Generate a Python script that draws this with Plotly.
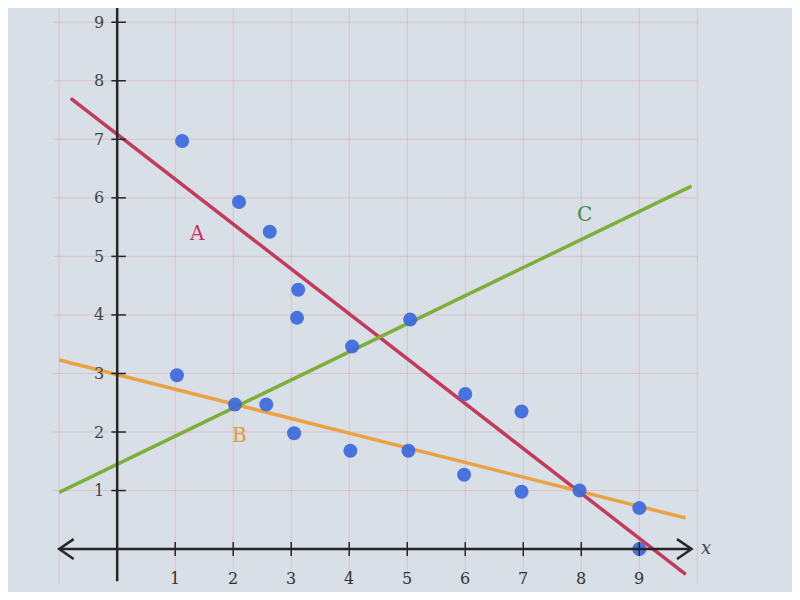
import plotly.graph_objects as go

# ---- data ----
pts_x = [1.12, 2.1, 2.63, 3.12, 3.1, 1.03, 2.03, 2.57, 3.05, 4.02, 4.05, 5.05, 5.02, 6.0, 6.97, 5.98, 6.97, 7.97, 9.0, 9.0]
pts_y = [6.97, 5.93, 5.42, 4.43, 3.95, 2.97, 2.47, 2.47, 1.98, 1.68, 3.46, 3.92, 1.68, 2.65, 2.35, 1.27, 0.98, 1.0, 0.7, 0.0]

line_a_x = [-0.8, 9.8]
line_a_y = [7.7, -0.43]
line_b_x = [-1.0, 9.8]
line_b_y = [3.23, 0.53]
line_c_x = [-1.0, 9.9]
line_c_y = [0.97, 6.2]

label_names = ["A", "B", "C"]
label_x = [1.38, 2.1, 8.05]
label_y = [5.4, 1.95, 5.72]

x_ticks = [1, 2, 3, 4, 5, 6, 7, 8, 9]
y_ticks = [1, 2, 3, 4, 5, 6, 7, 8, 9]

# ---- styles ----
col_a = "#c23a5c"
col_b = "#e9a244"
col_c = "#7fae3c"
lbl_cols = ["#c8305a", "#e39a3e", "#3f8f45"]
dot_col = "rgba(60,105,220,0.92)"
axis_col = "#262626"
grid_col = "rgba(225,140,140,0.35)"
serif = "DejaVu Serif, Liberation Serif, serif"
bg = "#d9dfe7"

fig = go.Figure()

for lx, ly, c in [(line_a_x, line_a_y, col_a), (line_b_x, line_b_y, col_b), (line_c_x, line_c_y, col_c)]:
    fig.add_trace(go.Scatter(x=lx, y=ly, mode="lines", line=dict(color=c, width=3.5),
                             hoverinfo="skip", showlegend=False))

fig.add_trace(go.Scatter(x=pts_x, y=pts_y, mode="markers",
                         marker=dict(size=14, color=dot_col, line=dict(width=0)),
                         showlegend=False))

shapes = []
# grid
for gx in [-1] + x_ticks + [10]:
    shapes.append(dict(type="line", x0=gx, x1=gx, y0=-0.6, y1=9.5, line=dict(color=grid_col, width=1), layer="below"))
for gy in y_ticks:
    shapes.append(dict(type="line", x0=-1.1, x1=10, y0=gy, y1=gy, line=dict(color=grid_col, width=1), layer="below"))

# axes
shapes.append(dict(type="line", x0=-1.0, x1=9.9, y0=0, y1=0, line=dict(color=axis_col, width=2.5)))
shapes.append(dict(type="line", x0=0, x1=0, y0=-0.55, y1=9.6, line=dict(color=axis_col, width=2.5)))
# arrow heads
shapes.append(dict(type="path", path="M -0.75,0.17 L -1.0,0 L -0.75,-0.17", line=dict(color=axis_col, width=2.5)))
shapes.append(dict(type="path", path="M 9.65,0.17 L 9.9,0 L 9.65,-0.17", line=dict(color=axis_col, width=2.5)))
# ticks
for tx in x_ticks:
    shapes.append(dict(type="line", x0=tx, x1=tx, y0=-0.12, y1=0.12, line=dict(color=axis_col, width=1.5)))
for ty in y_ticks:
    shapes.append(dict(type="line", x0=-0.1, x1=0.15, y0=ty, y1=ty, line=dict(color=axis_col, width=1.5)))

annotations = []
for tx in x_ticks:
    annotations.append(dict(x=tx, y=-0.5, text=str(tx), showarrow=False,
                            font=dict(family=serif, size=16, color="#333")))
for ty in y_ticks:
    annotations.append(dict(x=-0.2, y=ty, text=str(ty), showarrow=False, xanchor="right",
                            font=dict(family=serif, size=16, color="#444")))
annotations.append(dict(x=10.15, y=0.02, text="<i>x</i>", showarrow=False,
                        font=dict(family=serif, size=18, color="#444")))
for n, x, y, c in zip(label_names, label_x, label_y, lbl_cols):
    annotations.append(dict(x=x, y=y, text=n, showarrow=False,
                            font=dict(family=serif, size=20, color=c)))

fig.update_layout(
    width=784, height=584,
    margin=dict(l=0, r=0, t=0, b=0),
    paper_bgcolor=bg,
    plot_bgcolor=bg,
    xaxis=dict(range=[-1.882, 11.632], visible=False, fixedrange=True),
    yaxis=dict(range=[-0.733, 9.243], visible=False, fixedrange=True),
    shapes=shapes,
    annotations=annotations,
    showlegend=False,
)

fig.write_html("out.html")
